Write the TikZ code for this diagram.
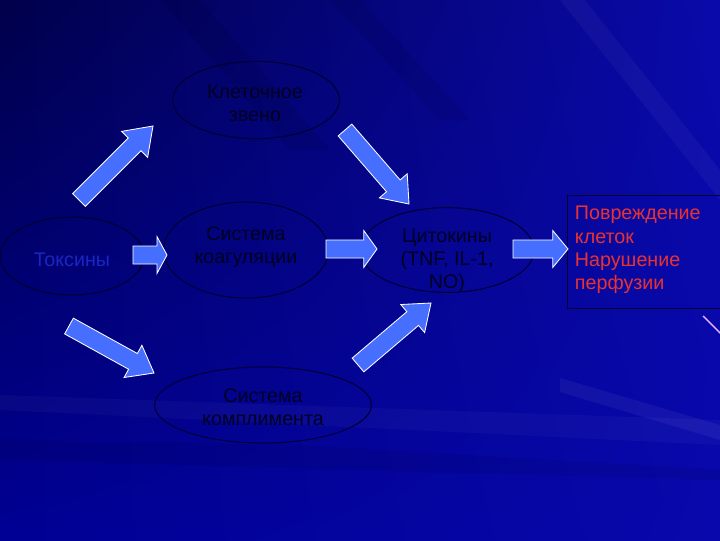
\documentclass[tikz,border=0pt]{standalone}
\usepackage{fontspec}
\setmainfont{Liberation Sans}
\usetikzlibrary{shapes.geometric,calc,shadings}

\definecolor{bgdark}{HTML}{00004A}
\definecolor{bgmid}{HTML}{000094}
\definecolor{bglight}{HTML}{0A0AAA}
\definecolor{bglow}{HTML}{0808AC}
\definecolor{ringcol}{HTML}{000030}
\definecolor{textcol}{HTML}{000022}
\definecolor{toxcol}{HTML}{1A26C4}
\definecolor{arrowcol}{HTML}{466EFF}
\definecolor{redtext}{HTML}{E83232}
\definecolor{pinkline}{HTML}{E6B4FF}

\tikzset{
    ring/.style={ellipse, draw=ringcol, line width=0.7pt, inner sep=0pt},
    ringtext/.style={align=center, text=textcol, font=\fontsize{14}{16.5}\selectfont},
    blockarrowstyle/.style={fill=arrowcol, draw=white, line width=0.6pt, line join=miter}
}

% block arrow: tail, tip, head length
\newcommand{\bw}{0.225cm}
\newcommand{\hw}{0.46cm}
\newcommand{\blockarrow}[3]{%
    \coordinate (#1-#2-neck) at ($(#2)!#3!(#1)$);
    \draw[blockarrowstyle] ($(#1)!\bw!90:(#2)$) -- ($(#1-#2-neck)!\bw!-90:(#1)$)
        -- ($(#1-#2-neck)!\hw!-90:(#1)$) -- (#2) -- ($(#1-#2-neck)!\hw!90:(#1)$)
        -- ($(#1-#2-neck)!\bw!90:(#1)$) -- ($(#1)!\bw!-90:(#2)$) -- cycle;
}

\begin{document}
\begin{tikzpicture}[x=0.025cm, y=-0.025cm]
    \useasboundingbox (0,0) rectangle (720,540);
    \clip (0,0) rectangle (720,540);
    % background
    \shade[upper left=bgdark, upper right=bglight, lower left=bgmid, lower right=bglow]
        (0,0) rectangle (720,540);
    \fill[white, opacity=0.03] (0,395) -- (720,420) -- (720,445) -- (0,410) -- cycle;
    \fill[white, opacity=0.05] (560,378) -- (720,425) -- (720,440) -- (560,392) -- cycle;
    \fill[black, opacity=0.08] (160,0) -- (200,0) -- (330,150) -- (290,150) -- cycle;
    \fill[black, opacity=0.07] (330,0) -- (360,0) -- (470,120) -- (440,120) -- cycle;
    \fill[white, opacity=0.04] (560,0) -- (585,0) -- (720,170) -- (720,200) -- cycle;
    \fill[black, opacity=0.07] (0,440) -- (300,445) -- (720,470) -- (720,480) -- (0,460) -- cycle;

    % ellipses
    \node[ring, minimum width=4.17cm, minimum height=1.93cm] (zveno) at (256,100){};
        \node[ringtext] (zvenotext) at (255,103){Клеточное\\звено};
    \node[ring, minimum width=3.6cm, minimum height=1.95cm] (toxins) at (72,256){};
        \node[ringtext, text=toxcol] (toxinstext) at (72,260){Токсины};
    \node[ring, minimum width=4.12cm, minimum height=2.4cm] (koag) at (246,250){};
        \node[ringtext] (koagtext) at (246,247){Система\\коагуляции};
    \node[ring, minimum width=4.35cm, minimum height=2.12cm] (cyto) at (447,250){};
        \node[ringtext] (cytotext) at (447,261){Цитокины\\(TNF, IL-1,\\NO)};
    \node[ring, minimum width=5.42cm, minimum height=1.9cm] (kompl) at (263,405){};
        \node[ringtext] (kompltext) at (263,407){Система\\комплимента};

    % result box
    \draw[ringcol, line width=0.6pt] (567,195) rectangle (730,308);
        \node[anchor=west, align=left, text=redtext, font=\fontsize{14}{16.5}\selectfont] (damage) at (570,250)
            {Повреждение\\клеток\\Нарушение\\перфузии};
    \draw[pinkline, line width=1pt] (703,316) -- (722,335);

    % arrows
    \coordinate (a1s) at (79,200);  \coordinate (a1e) at (153,126);
    \coordinate (a2s) at (133,255); \coordinate (a2e) at (167,255);
    \coordinate (a3s) at (345,130); \coordinate (a3e) at (409,204);
    \coordinate (a4s) at (326,249); \coordinate (a4e) at (377,249);
    \coordinate (a5s) at (513,249); \coordinate (a5e) at (568,249);
    \coordinate (a6s) at (69,326);  \coordinate (a6e) at (154,373);
    \coordinate (a7s) at (358,365); \coordinate (a7e) at (431,303);
    \blockarrow{a1s}{a1e}{0.65cm}
    \blockarrow{a2s}{a2e}{0.25cm}
    \blockarrow{a3s}{a3e}{0.6cm}
    \blockarrow{a4s}{a4e}{0.33cm}
    \blockarrow{a5s}{a5e}{0.38cm}
    \blockarrow{a6s}{a6e}{0.6cm}
    \blockarrow{a7s}{a7e}{0.6cm}
\end{tikzpicture}
\end{document}
